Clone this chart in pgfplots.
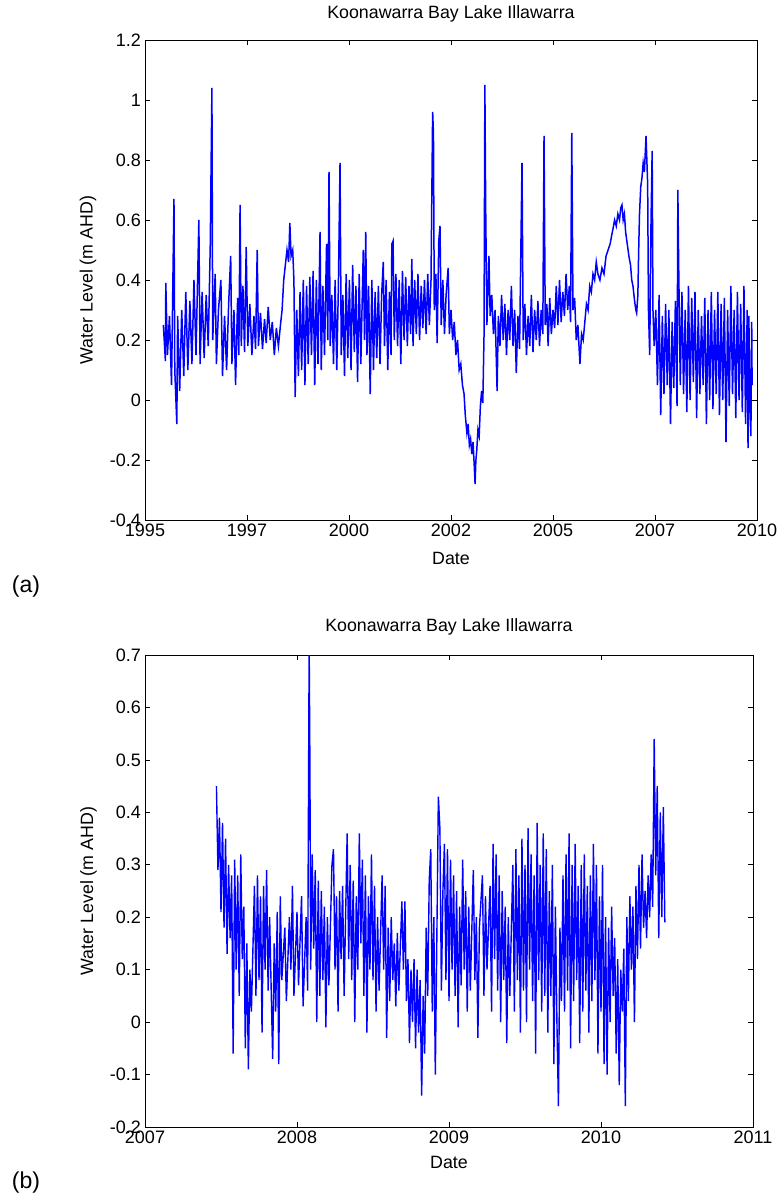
\documentclass[border=0pt]{standalone}
\usepackage{fontspec}
\setmainfont{Liberation Sans}
\usepackage{pgfplots}
\pgfplotsset{compat=1.18}
\definecolor{mblue}{RGB}{0,0,255}
\pgfplotsset{
  mstyle/.style={
    scale only axis,
    axis line style={line width=0.9pt, black},
    tick align=inside,
    major tick length=5pt,
    tick style={line width=0.8pt, black},
    every tick label/.append style={font=\fontsize{18}{21}\selectfont},
    xticklabel style={inner sep=1pt, yshift=-3pt},
    yticklabel style={inner sep=1pt, xshift=-3pt},
    label style={font=\fontsize{17.8}{21}\selectfont},
    title style={font=\fontsize{17.8}{21}\selectfont},
    ylabel={Water Level (m AHD)},
    xlabel={Date},
    title={Koonawarra Bay Lake Illawarra},
  }
}
\begin{document}
\begin{tikzpicture}
\useasboundingbox (0pt,0pt) rectangle (778pt,-1196pt);
\begin{axis}[mstyle,
  at={(145pt,-520pt)}, anchor=south west,
  width=612pt, height=480pt,
  xmin=1995, xmax=2010, ymin=-0.4, ymax=1.2,
  xtick={1995,1997.5,2000,2002.5,2005,2007.5,2010},
  xticklabels={1995,1997,2000,2002,2005,2007,2010},
  ytick={-0.4,-0.2,0,0.2,0.4,0.6,0.8,1,1.2},
  yticklabels={-0.4,-0.2,0,0.2,0.4,0.6,0.8,1,1.2},
  ylabel style={at={(axis description cs:-0.093,0.5)}, anchor=center},
  xlabel style={at={(axis description cs:0.5,-0.08)}, anchor=center},
  title style={at={(axis description cs:0.5,1.042)}, anchor=center},
]
\addplot[mblue, line width=1.5pt] coordinates {
(1995.45,0.25) (1995.50,0.13) (1995.51,0.39) (1995.55,0.15) (1995.60,0.28) (1995.65,0.05) (1995.71,0.67) (1995.73,0.10) (1995.78,-0.08) (1995.80,0.28) (1995.85,0.03) (1995.90,0.30) (1995.95,0.08)
(1996.00,0.36) (1996.05,0.10) (1996.10,0.33) (1996.15,0.12) (1996.20,0.40) (1996.25,0.15) (1996.32,0.60) (1996.35,0.12) (1996.40,0.36) (1996.45,0.14) (1996.50,0.35) (1996.55,0.18) (1996.60,0.52) (1996.64,1.04) (1996.66,0.20) (1996.72,0.42) (1996.75,0.12) (1996.80,0.30) (1996.86,0.40) (1996.90,0.08) (1996.95,0.28)
(1997.00,0.10) (1997.05,0.32) (1997.10,0.48) (1997.13,0.12) (1997.18,0.30) (1997.22,0.05) (1997.27,0.34) (1997.30,0.15) (1997.33,0.65) (1997.36,0.18) (1997.40,0.38) (1997.44,0.16) (1997.48,0.51) (1997.52,0.18) (1997.57,0.32) (1997.62,0.15) (1997.67,0.28) (1997.71,0.17) (1997.75,0.50) (1997.78,0.18) (1997.83,0.29) (1997.88,0.17) (1997.93,0.27) (1997.97,0.19)
(1998.02,0.31) (1998.07,0.20) (1998.12,0.26) (1998.17,0.15) (1998.22,0.24) (1998.27,0.18) (1998.32,0.25) (1998.36,0.30) (1998.40,0.40) (1998.44,0.45) (1998.48,0.50) (1998.52,0.46) (1998.55,0.59) (1998.58,0.48) (1998.62,0.50) (1998.65,0.40) (1998.68,0.01) (1998.72,0.30) (1998.76,0.08) (1998.80,0.36) (1998.84,0.10) (1998.88,0.40) (1998.92,0.05) (1998.96,0.38)
(1999.00,0.12) (1999.04,0.41) (1999.08,0.15) (1999.12,0.43) (1999.16,0.05) (1999.20,0.40) (1999.24,0.12) (1999.29,0.56) (1999.32,0.10) (1999.36,0.38) (1999.40,0.15) (1999.45,0.52) (1999.48,0.20) (1999.51,0.76) (1999.54,0.18) (1999.58,0.35) (1999.62,0.12) (1999.66,0.40) (1999.70,0.10) (1999.74,0.38) (1999.78,0.79) (1999.81,0.15) (1999.85,0.35) (1999.89,0.08) (1999.93,0.42) (1999.97,0.14)
(2000.01,0.40) (2000.05,0.10) (2000.09,0.45) (2000.13,0.16) (2000.17,0.38) (2000.21,0.06) (2000.25,0.42) (2000.29,0.12) (2000.35,0.50) (2000.38,0.20) (2000.41,0.56) (2000.44,0.15) (2000.48,0.38) (2000.52,0.02) (2000.56,0.40) (2000.60,0.10) (2000.64,0.36) (2000.68,0.14) (2000.72,0.38) (2000.76,0.12) (2000.80,0.35) (2000.84,0.46) (2000.87,0.18) (2000.91,0.40) (2000.95,0.10) (2000.99,0.36)
(2001.03,0.15) (2001.05,0.52) (2001.08,0.53) (2001.11,0.20) (2001.15,0.42) (2001.19,0.18) (2001.23,0.40) (2001.27,0.12) (2001.31,0.43) (2001.35,0.20) (2001.39,0.41) (2001.43,0.18) (2001.47,0.38) (2001.51,0.22) (2001.54,0.47) (2001.57,0.18) (2001.61,0.40) (2001.65,0.22) (2001.69,0.42) (2001.73,0.20) (2001.77,0.38) (2001.81,0.24) (2001.85,0.40) (2001.89,0.22) (2001.93,0.42) (2001.97,0.25)
(2002.01,0.40) (2002.05,0.96) (2002.07,0.89) (2002.09,0.30) (2002.13,0.42) (2002.16,0.19) (2002.20,0.53) (2002.23,0.58) (2002.26,0.25) (2002.30,0.40) (2002.34,0.22) (2002.38,0.35) (2002.43,0.44) (2002.46,0.22) (2002.50,0.30) (2002.54,0.20) (2002.58,0.26) (2002.62,0.15) (2002.66,0.20) (2002.70,0.10) (2002.74,0.12) (2002.78,0.05) (2002.82,0.02) (2002.85,-0.05) (2002.89,-0.11) (2002.92,-0.08) (2002.95,-0.15) (2002.98,-0.13)
(2003.01,-0.18) (2003.04,-0.14) (2003.07,-0.22) (2003.09,-0.28) (2003.11,-0.20) (2003.13,-0.17) (2003.16,-0.10) (2003.19,-0.12) (2003.22,-0.02) (2003.25,0.03) (2003.28,-0.01) (2003.31,0.22) (2003.33,1.05) (2003.35,0.64) (2003.38,0.25) (2003.43,0.48) (2003.46,0.28)
(2003.50,0.35) (2003.54,0.22) (2003.58,0.30) (2003.63,0.03) (2003.66,0.28) (2003.70,0.18) (2003.74,0.35) (2003.78,0.20) (2003.82,0.32) (2003.86,0.15) (2003.90,0.30) (2003.94,0.20) (2003.98,0.38)
(2004.02,0.18) (2004.06,0.30) (2004.10,0.09) (2004.14,0.28) (2004.18,0.17) (2004.24,0.79) (2004.27,0.20) (2004.31,0.32) (2004.35,0.15) (2004.39,0.28) (2004.43,0.18) (2004.47,0.35) (2004.51,0.16) (2004.55,0.30) (2004.59,0.20) (2004.63,0.33) (2004.67,0.18) (2004.71,0.30) (2004.75,0.22) (2004.78,0.88) (2004.81,0.25) (2004.85,0.32) (2004.88,0.18) (2004.92,0.34) (2004.96,0.22)
(2005.00,0.30) (2005.04,0.24) (2005.08,0.38) (2005.12,0.25) (2005.16,0.40) (2005.20,0.26) (2005.24,0.36) (2005.28,0.28) (2005.32,0.42) (2005.36,0.30) (2005.40,0.38) (2005.43,0.26) (2005.46,0.89) (2005.49,0.30) (2005.53,0.34) (2005.57,0.20) (2005.61,0.25) (2005.66,0.12) (2005.70,0.22) (2005.74,0.20) (2005.78,0.26) (2005.82,0.32) (2005.86,0.30) (2005.90,0.38) (2005.94,0.36) (2005.98,0.42)
(2006.02,0.40) (2006.06,0.46) (2006.10,0.42) (2006.15,0.40) (2006.20,0.44) (2006.25,0.42) (2006.30,0.48) (2006.35,0.50) (2006.40,0.52) (2006.44,0.55) (2006.47,0.57) (2006.51,0.60) (2006.55,0.58) (2006.59,0.62) (2006.63,0.60) (2006.66,0.64) (2006.69,0.65) (2006.72,0.60) (2006.75,0.62) (2006.78,0.56) (2006.82,0.52) (2006.86,0.48) (2006.90,0.45) (2006.93,0.40) (2006.96,0.38)
(2007.00,0.33) (2007.03,0.30) (2007.05,0.29) (2007.08,0.35) (2007.10,0.50) (2007.12,0.62) (2007.15,0.71) (2007.18,0.74) (2007.21,0.79) (2007.24,0.76) (2007.26,0.82) (2007.28,0.88) (2007.30,0.80) (2007.32,0.72) (2007.34,0.30) (2007.37,0.15) (2007.40,0.57) (2007.43,0.83) (2007.45,0.30) (2007.48,0.18)
(2007.52,0.30) (2007.56,0.05) (2007.60,0.35) (2007.64,-0.05) (2007.68,0.28) (2007.72,0.02) (2007.76,0.32) (2007.80,0.05) (2007.84,0.30) (2007.88,-0.08) (2007.92,0.26) (2007.96,0.04)
(2008.00,0.33) (2008.04,-0.02) (2008.06,0.70) (2008.08,0.45) (2008.12,0.05) (2008.16,0.36) (2008.20,0.02) (2008.24,0.30) (2008.28,-0.04) (2008.32,0.38) (2008.36,0.00) (2008.40,0.34) (2008.44,0.06) (2008.48,0.36) (2008.52,-0.06) (2008.56,0.30) (2008.60,0.02) (2008.64,0.28) (2008.68,0.05) (2008.72,0.34) (2008.76,-0.08) (2008.80,0.30) (2008.84,0.00) (2008.88,0.36) (2008.92,-0.03) (2008.96,0.30)
(2009.00,0.02) (2009.04,0.36) (2009.08,-0.05) (2009.12,0.32) (2009.16,0.00) (2009.20,0.34) (2009.24,-0.14) (2009.28,0.30) (2009.32,-0.02) (2009.36,0.38) (2009.40,0.02) (2009.44,0.30) (2009.48,-0.06) (2009.52,0.36) (2009.56,0.00) (2009.60,0.32) (2009.64,-0.04) (2009.68,0.38) (2009.72,-0.08) (2009.76,0.30) (2009.78,-0.16) (2009.80,0.28) (2009.83,-0.05) (2009.85,-0.12) (2009.87,0.26) (2009.88,0.05)
};
\end{axis}
\node[font=\fontsize{23}{26}\selectfont] at (26pt,-587pt) {(a)};
\begin{axis}[mstyle,
  at={(145pt,-1127pt)}, anchor=south west,
  width=608pt, height=472pt,
  xmin=2007, xmax=2011, ymin=-0.2, ymax=0.7,
  xtick={2007,2008,2009,2010,2011},
  xticklabels={2007,2008,2009,2010,2011},
  ytick={-0.2,-0.1,0,0.1,0.2,0.3,0.4,0.5,0.6,0.7},
  yticklabels={-0.2,-0.1,0,0.1,0.2,0.3,0.4,0.5,0.6,0.7},
  ylabel style={at={(axis description cs:-0.093,0.5)}, anchor=center},
  xlabel style={at={(axis description cs:0.5,-0.075)}, anchor=center},
  title style={at={(axis description cs:0.5,1.047)}, anchor=center},
]
\addplot[mblue, line width=1.4pt] coordinates {
(2007.47,0.45) (2007.48,0.29) (2007.49,0.39) (2007.50,0.21) (2007.51,0.38) (2007.52,0.18) (2007.53,0.35) (2007.54,0.13) (2007.55,0.30) (2007.56,0.16) (2007.57,0.28) (2007.58,-0.06) (2007.59,0.31) (2007.60,0.10) (2007.61,0.28) (2007.62,0.05) (2007.63,0.32) (2007.64,0.12) (2007.65,0.22) (2007.66,-0.05) (2007.67,0.15) (2007.68,-0.09) (2007.69,0.10) (2007.70,0.02)
(2007.72,0.26) (2007.73,0.05) (2007.74,0.28) (2007.75,0.08) (2007.76,0.24) (2007.77,-0.02) (2007.78,0.26) (2007.79,0.10) (2007.80,0.29) (2007.81,0.06) (2007.82,0.20) (2007.84,-0.07) (2007.85,0.15) (2007.86,0.02) (2007.87,0.21) (2007.88,-0.08) (2007.89,0.24) (2007.90,0.08) (2007.92,0.18) (2007.93,0.04) (2007.95,0.20) (2007.96,0.10) (2007.97,0.26) (2007.98,0.05)
(2008.00,0.21) (2008.01,0.07) (2008.03,0.24) (2008.04,0.03) (2008.06,0.20) (2008.07,0.06) (2008.08,0.72) (2008.085,0.49) (2008.09,0.10) (2008.10,0.32) (2008.11,0.14) (2008.12,0.29) (2008.13,0.00) (2008.14,0.27) (2008.15,0.05) (2008.16,0.25) (2008.17,0.08) (2008.18,0.22) (2008.19,-0.01) (2008.20,0.20) (2008.21,0.07) (2008.23,0.30) (2008.24,0.33) (2008.25,0.10) (2008.26,0.24) (2008.27,0.02) (2008.28,0.25) (2008.29,0.12) (2008.30,0.26) (2008.31,0.05)
(2008.33,0.36) (2008.34,0.12) (2008.35,0.30) (2008.36,0.08) (2008.37,0.27) (2008.38,0.00) (2008.39,0.24) (2008.40,0.10) (2008.41,0.36) (2008.42,0.15) (2008.43,0.31) (2008.44,0.05) (2008.45,0.28) (2008.46,-0.02) (2008.47,0.24) (2008.48,0.10) (2008.49,0.32) (2008.50,0.08) (2008.51,0.26) (2008.52,0.02) (2008.53,0.20) (2008.54,0.06) (2008.56,0.28) (2008.57,0.10) (2008.58,0.26) (2008.59,-0.03) (2008.60,0.18) (2008.61,0.04) (2008.62,0.20) (2008.63,0.08) (2008.64,0.15) (2008.65,0.03) (2008.66,0.17) (2008.67,0.06) (2008.69,0.23) (2008.70,0.10) (2008.71,0.23) (2008.72,0.04)
(2008.73,0.12) (2008.74,-0.04) (2008.75,0.10) (2008.76,0.00) (2008.77,0.12) (2008.78,-0.05) (2008.79,0.10) (2008.80,-0.02) (2008.81,0.08) (2008.82,-0.14) (2008.83,0.05) (2008.84,-0.06) (2008.85,0.18) (2008.86,0.05) (2008.87,0.27) (2008.88,0.33) (2008.89,0.02) (2008.90,0.20) (2008.91,-0.10) (2008.92,0.16) (2008.93,0.43) (2008.94,0.37) (2008.95,0.06) (2008.96,0.25) (2008.97,0.34) (2008.98,0.08) (2008.99,0.33)
(2009.00,0.04) (2009.01,0.31) (2009.02,0.10) (2009.03,0.28) (2009.04,0.05) (2009.05,0.25) (2009.06,-0.01) (2009.07,0.22) (2009.08,0.07) (2009.09,0.31) (2009.10,0.10) (2009.11,0.25) (2009.12,0.02) (2009.13,0.22) (2009.14,0.06) (2009.16,0.29) (2009.17,0.08) (2009.18,0.20) (2009.19,-0.03) (2009.20,0.18) (2009.22,0.28) (2009.23,0.05) (2009.24,0.24) (2009.25,0.10) (2009.27,0.26) (2009.28,0.02) (2009.29,0.34) (2009.30,0.12) (2009.31,0.32) (2009.32,0.06) (2009.33,0.28) (2009.34,0.00) (2009.35,0.25) (2009.36,0.08) (2009.37,0.22) (2009.38,-0.04) (2009.39,0.20) (2009.40,0.05)
(2009.42,0.30) (2009.43,0.02) (2009.44,0.33) (2009.45,0.08) (2009.46,0.28) (2009.47,-0.02) (2009.48,0.35) (2009.49,0.06) (2009.50,0.30) (2009.51,0.00) (2009.52,0.37) (2009.53,0.10) (2009.54,0.32) (2009.55,0.04) (2009.56,0.28) (2009.57,-0.06) (2009.58,0.38) (2009.59,0.08) (2009.60,0.30) (2009.61,0.02) (2009.62,0.36) (2009.63,0.05) (2009.64,0.33) (2009.65,-0.02) (2009.66,0.25) (2009.67,0.05) (2009.68,0.30) (2009.69,-0.08) (2009.70,0.22) (2009.71,0.00) (2009.72,-0.16) (2009.73,0.18) (2009.74,0.04) (2009.75,0.28) (2009.76,0.02) (2009.77,0.32) (2009.78,0.06) (2009.79,0.36) (2009.80,-0.05)
(2009.81,0.30) (2009.82,0.04) (2009.83,0.34) (2009.84,0.08) (2009.85,0.26) (2009.86,-0.04) (2009.87,0.30) (2009.88,0.02) (2009.89,0.32) (2009.90,0.06) (2009.91,0.26) (2009.92,-0.02) (2009.93,0.28) (2009.94,0.04) (2009.95,0.34) (2009.96,0.08) (2009.97,0.30) (2009.98,-0.06) (2009.99,0.24)
(2010.00,0.02) (2010.01,0.30) (2010.02,-0.08) (2010.03,0.20) (2010.04,-0.10) (2010.05,0.18) (2010.06,0.00) (2010.07,0.22) (2010.08,0.05) (2010.09,0.16) (2010.10,-0.06) (2010.11,0.12) (2010.12,-0.12) (2010.13,0.10) (2010.14,0.02) (2010.15,0.14) (2010.16,-0.16) (2010.17,0.20) (2010.18,0.04) (2010.19,0.24) (2010.20,0.10) (2010.21,0.22) (2010.22,0.00) (2010.23,0.26) (2010.24,0.12) (2010.25,0.30) (2010.26,0.14) (2010.27,0.32) (2010.28,0.18) (2010.29,0.25) (2010.30,0.16) (2010.31,0.28) (2010.32,0.20) (2010.33,0.32) (2010.34,0.22) (2010.35,0.54) (2010.36,0.28) (2010.37,0.45) (2010.38,0.16) (2010.39,0.40) (2010.40,0.20) (2010.41,0.41) (2010.42,0.19)
};
\end{axis}
\node[font=\fontsize{23}{26}\selectfont] at (26pt,-1183pt) {(b)};
\end{tikzpicture}
\end{document}
